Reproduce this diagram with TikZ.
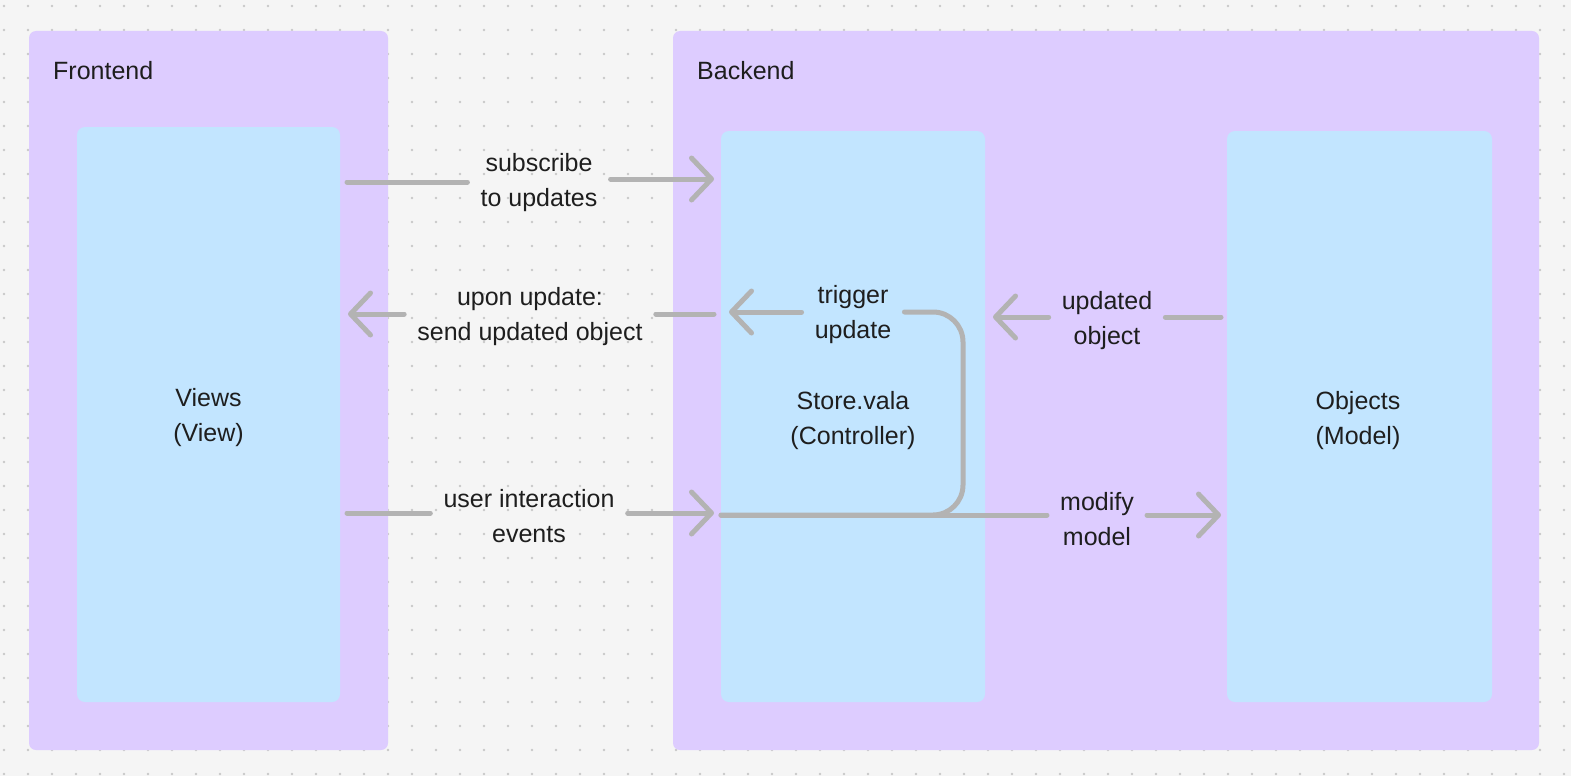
\documentclass[tikz,border=0pt]{standalone}
\usepackage{fontspec}
\setmainfont{Liberation Sans}
\usetikzlibrary{arrows.meta}
\definecolor{bgc}{HTML}{F5F5F5}
\definecolor{dotc}{HTML}{C8C8C8}
\definecolor{lav}{HTML}{DDCCFF}
\definecolor{sky}{HTML}{C2E5FF}
\definecolor{linec}{HTML}{B3B3B3}
\definecolor{txt}{HTML}{1E1E1E}
\begin{document}
\begin{tikzpicture}[x=1pt,y=-1pt,
  txtfont/.style={font=\fontsize{25}{35}\selectfont, text=txt},
  section/.style={fill=lav, rounded corners=7pt, inner sep=0pt},
  block/.style={fill=sky, rounded corners=8pt, inner sep=0pt},
  blocktext/.style={txtfont, align=center, inner sep=0pt},
  title/.style={txtfont, anchor=base west, inner sep=0pt},
  lbl/.style={txtfont, align=center, inner xsep=13pt, inner ysep=2pt},
  conn/.style={draw=linec, line width=5pt, line cap=round, line join=round},
  arr/.style={conn, -{Straight Barb[length=20pt,width=42pt,round]}}
]
\useasboundingbox (0,0) rectangle (1571,776);
\fill[bgc] (0,0) rectangle (1571,776);
\foreach \i in {0,...,65}{\foreach \j in {0,...,32}{
  \fill[dotc] (4+24*\i,6+24*\j) circle[radius=1.3pt];}}

% sections
\node[section, minimum width=359pt, minimum height=719pt] (front) at (208.5,390.5) {};
\node[section, minimum width=866pt, minimum height=719pt] (back) at (1106,390.5) {};
\node[title] (fronttitle) at (53,80) {Frontend};
\node[title] (backtitle) at (697,80) {Backend};

% blocks
\node[block, minimum width=263pt, minimum height=575pt] (views) at (208.5,414.5) {};
\node[block, minimum width=264pt, minimum height=571pt] (store) at (853,416.5) {};
\node[block, minimum width=265pt, minimum height=571pt] (objects) at (1359.5,416.5) {};
\node[blocktext] (viewstext) at (208.5,417.5) {Views\\(View)};
\node[blocktext] (storetext) at (853,420.5) {Store.vala\\(Controller)};
\node[blocktext] (objectstext) at (1358,420.5) {Objects\\(Model)};

% connector end points
\coordinate (s1) at (347,182);
\coordinate (e1) at (714,179);
\coordinate (s2) at (714,314);
\coordinate (e2) at (348,314);
\coordinate (e3) at (729,312);
\coordinate (b0) at (721,515);
\coordinate (bend) at (963,515);
\coordinate (top) at (963,312);
\coordinate (s4) at (1221,317);
\coordinate (e4) at (993,317);
\coordinate (s5) at (347,513);
\coordinate (e5) at (714,513);
\coordinate (e6) at (1221,515);

% labels
\node[lbl] (l1) at (539,183) {subscribe\\to updates};
\node[lbl] (l2) at (530,317) {upon update:\\send updated object};
\node[lbl] (l3) at (853,315) {trigger\\update};
\node[lbl] (l4) at (1107,321) {updated\\object};
\node[lbl] (l5) at (529,516) {user interaction\\events};
\node[lbl] (l6) at (1097,519) {modify\\model};

% connectors
\draw[conn] (s1) -- (l1.west |- s1);
\draw[arr] (l1.east |- e1) -- (e1);
\draw[conn] (s2) -- (l2.east |- s2);
\draw[arr] (l2.west |- e2) -- (e2);
\draw[conn, rounded corners=30pt] (b0) -- (bend) -- (top) -- (l3.east |- top);
\draw[arr] (l3.west |- e3) -- (e3);
\draw[conn] (s4) -- (l4.east |- s4);
\draw[arr] (l4.west |- e4) -- (e4);
\draw[conn] (s5) -- (l5.west |- s5);
\draw[arr] (l5.east |- e5) -- (e5);
\draw[conn] (b0) -- (l6.west |- b0);
\draw[arr] (l6.east |- e6) -- (e6);
\end{tikzpicture}
\end{document}
